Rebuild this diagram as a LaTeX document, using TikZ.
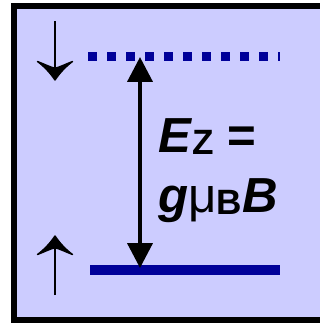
\documentclass[tikz,border=0pt]{standalone}
\usepackage{fontspec}
\setmainfont{Liberation Sans}
\usetikzlibrary{arrows.meta}
\definecolor{panel}{HTML}{CCCCFF}
\definecolor{level}{HTML}{000099}
\definecolor{ink}{HTML}{000000}
\newcommand\lowsub[1]{\raisebox{-2pt}{\fontsize{25}{28}\selectfont #1}}
\tikzset{
  frame/.style  = {draw=ink, fill=panel, line width=0.15cm},
  lvl/.style    = {draw=level, line width=0.24cm},
  lvlup/.style  = {lvl, line width=0.225cm, dash pattern=on 0.225cm off 0.25cm},
  gap/.style    = {{Triangle[length=0.62cm, width=0.62cm]}-{Triangle[length=0.62cm, width=0.62cm]},
                   draw=ink, line width=0.1cm},
  spin/.style   = {draw=ink, line width=0.045cm},
  spinhead/.pic = {
    \filldraw[ink, line width=1pt, line join=round]
      (0,0) .. controls (-4,-6) and (-10,-13) .. (-17.5,-18.5)
      .. controls (-11,-16) and (-5,-13) .. (-1,-12) -- (1,-12)
      .. controls (5,-13) and (11,-16) .. (17.5,-18.5)
      .. controls (10,-13) and (4,-6) .. (0,0) -- cycle;},
  lbl/.style    = {font=\fontsize{35}{38}\selectfont\bfseries, text=ink,
                   inner sep=0pt, anchor=base west},
}

\begin{document}
\begin{tikzpicture}[x=0.025cm, y=-0.025cm]
    \useasboundingbox (0,0) rectangle (320,323);
    \draw[frame] (14,5.5) rectangle (334,320);
    % Zeeman levels
    \coordinate (upL) at (88,56);
    \coordinate (upR) at (279.5,56);
    \coordinate (dnL) at (90,270);
    \coordinate (dnR) at (279.5,270);
    \draw[lvlup] (upL) -- (upR);
    \draw[lvl] (dnL) -- (dnR);
    % splitting
    \coordinate (tipT) at (140,57);
    \coordinate (tipB) at (140,268);
    \draw[gap] (tipT) -- (tipB);
    % spins
    \coordinate (sdA) at (55,21);
    \coordinate (sdB) at (55,80);
    \coordinate (suA) at (55,295);
    \coordinate (suB) at (55,236);
    \draw[spin] (sdA) -- ([yshift=6]sdB);
    \draw[spin] (suA) -- ([yshift=-6]suB);
    \pic at (sdB) {spinhead};
    \pic[yscale=-1] at (suB) {spinhead};
    % label
    \node[lbl] (ez) at (158,152) {\textit{E}\lowsub{Z} =};
    \node[lbl] (gmb) at (158,212) {\textit{g}{\mdseries μ}\lowsub{B}\textit{B}};
\end{tikzpicture}
\end{document}
